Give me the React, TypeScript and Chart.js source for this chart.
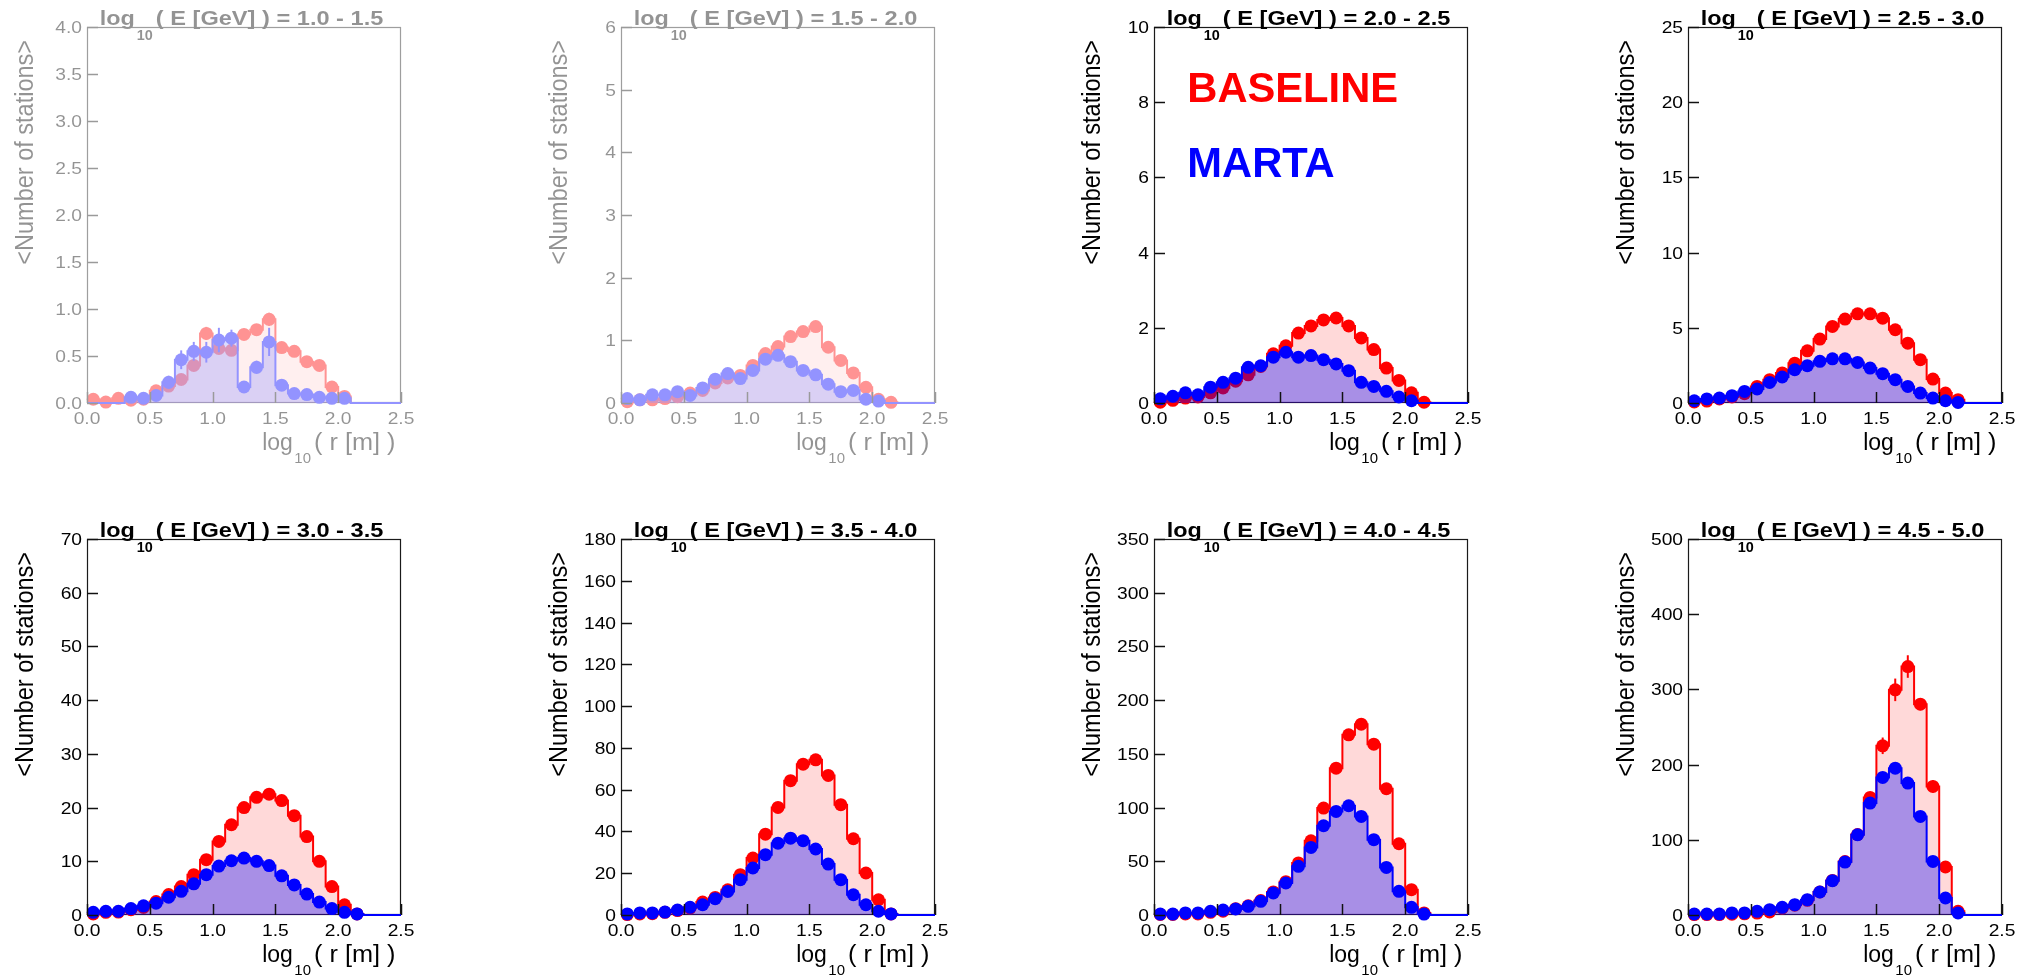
import React, { useEffect, useRef } from "react";
import { Chart, registerables } from "chart.js";
Chart.register(...registerables);

// ---------------- DATA ----------------
const BIN_CENTERS = [0.05, 0.15, 0.25, 0.35, 0.45, 0.55, 0.65, 0.75, 0.85, 0.95, 1.05, 1.15, 1.25, 1.35, 1.45, 1.55, 1.65, 1.75, 1.85, 1.95, 2.05, 2.15];
const BIN_WIDTH = 0.1;
const X_MAX = 2.5;
const X_TICK_LABELS = ["0.0", "0.5", "1.0", "1.5", "2.0", "2.5"];
const ENERGY_BINS = ["1.0 - 1.5", "1.5 - 2.0", "2.0 - 2.5", "2.5 - 3.0", "3.0 - 3.5", "3.5 - 4.0", "4.0 - 4.5", "4.5 - 5.0"];
const Y_TICK_LABELS = [
  ["0.0", "0.5", "1.0", "1.5", "2.0", "2.5", "3.0", "3.5", "4.0"],
  ["0", "1", "2", "3", "4", "5", "6"],
  ["0", "2", "4", "6", "8", "10"],
  ["0", "5", "10", "15", "20", "25"],
  ["0", "10", "20", "30", "40", "50", "60", "70"],
  ["0", "20", "40", "60", "80", "100", "120", "140", "160", "180"],
  ["0", "50", "100", "150", "200", "250", "300", "350"],
  ["0", "100", "200", "300", "400", "500"],
];
const X_TITLE = ["log", "10", "( r [m] )"];
const Y_TITLE = "<Number of stations>";
const LEGEND = ["BASELINE", "MARTA"];

const BASELINE_1 = [0.04, 0.01, 0.05, 0.03, 0.04, 0.13, 0.18, 0.25, 0.40, 0.74, 0.58, 0.56, 0.73, 0.78, 0.89, 0.59, 0.55, 0.44, 0.40, 0.17, 0.07, null];
const MARTA_1 = [null, null, null, 0.06, 0.05, 0.08, 0.22, 0.46, 0.55, 0.54, 0.67, 0.69, 0.17, 0.38, 0.65, 0.19, 0.10, 0.09, 0.06, 0.05, 0.05, null];
const BASELINE_ERR_1 = [0.03, 0.01, 0.03, 0.02, 0.03, 0.05, 0.05, 0.05, 0.06, 0.07, 0.06, 0.06, 0.06, 0.06, 0.07, 0.05, 0.05, 0.05, 0.05, 0.04, 0.03, 0];
const MARTA_ERR_1 = [0, 0, 0, 0.04, 0.04, 0.05, 0.07, 0.1, 0.1, 0.11, 0.13, 0.09, 0.06, 0.07, 0.15, 0.06, 0.04, 0.04, 0.03, 0.03, 0.03, 0];

const BASELINE_2 = [0.02, 0.05, 0.05, 0.07, 0.10, 0.16, 0.20, 0.32, 0.40, 0.44, 0.60, 0.79, 0.90, 1.06, 1.14, 1.22, 0.89, 0.68, 0.48, 0.25, 0.06, 0.01];
const MARTA_2 = [0.07, 0.05, 0.13, 0.13, 0.18, 0.12, 0.24, 0.38, 0.47, 0.39, 0.52, 0.70, 0.76, 0.66, 0.52, 0.45, 0.30, 0.18, 0.20, 0.06, 0.03, null];

const BASELINE_3 = [0.02, 0.07, 0.13, 0.16, 0.27, 0.40, 0.58, 0.75, 0.97, 1.31, 1.52, 1.86, 2.05, 2.21, 2.26, 2.05, 1.73, 1.42, 0.93, 0.60, 0.27, 0.02];
const MARTA_3 = [0.11, 0.18, 0.27, 0.22, 0.42, 0.55, 0.66, 0.95, 0.99, 1.22, 1.35, 1.22, 1.26, 1.15, 1.04, 0.86, 0.55, 0.44, 0.31, 0.16, 0.06, null];

const BASELINE_4 = [0.07, 0.13, 0.27, 0.40, 0.62, 1.10, 1.55, 2.00, 2.65, 3.47, 4.25, 5.09, 5.58, 5.93, 5.93, 5.64, 4.87, 3.98, 2.88, 1.59, 0.66, 0.22];
const MARTA_4 = [0.15, 0.27, 0.33, 0.49, 0.77, 0.93, 1.37, 1.73, 2.21, 2.48, 2.77, 2.94, 2.94, 2.70, 2.32, 1.95, 1.55, 1.10, 0.66, 0.33, 0.15, 0.04];

const BASELINE_5 = [0.2, 0.5, 0.55, 1.0, 1.4, 2.5, 3.8, 5.3, 7.5, 10.3, 13.7, 16.8, 20.0, 21.9, 22.5, 21.3, 18.5, 14.6, 10.0, 5.3, 1.9, 0.2];
const MARTA_5 = [0.5, 0.7, 0.7, 1.2, 1.7, 2.2, 3.3, 4.4, 5.8, 7.5, 9.1, 10.1, 10.6, 10.0, 9.2, 7.3, 5.6, 3.9, 2.4, 1.2, 0.5, 0.2];

const BASELINE_6 = [0.2, 0.5, 0.6, 1.3, 2.1, 3.3, 6.2, 8.4, 12.1, 19.3, 27.3, 38.7, 51.5, 64.3, 72.2, 74.3, 66.8, 52.8, 36.5, 20.1, 7.3, 0.5];
const MARTA_6 = [0.5, 1.0, 1.0, 1.4, 2.4, 3.7, 4.9, 7.8, 11.3, 16.9, 22.5, 28.9, 34.4, 36.8, 35.6, 31.6, 24.4, 16.9, 9.7, 4.9, 1.8, 0.5];

const BASELINE_7 = [0.5, 0.5, 1.0, 1.0, 2.5, 3.5, 5.9, 8.5, 13.5, 21.5, 31.0, 48.5, 69.1, 99.5, 136.7, 167.7, 177.6, 159.0, 117.5, 66.3, 23.6, 1.9];
const MARTA_7 = [0.9, 0.9, 1.9, 1.9, 3.4, 4.6, 5.6, 8.1, 12.7, 20.5, 29.8, 45.3, 62.9, 83.1, 96.4, 101.7, 91.8, 70.1, 44.3, 22.0, 7.1, 0.9];

const BASELINE_8 = [0.5, 0.5, 0.5, 1.0, 1.5, 2.5, 4.0, 9.0, 13.0, 19.5, 30.6, 46.0, 71.0, 107.0, 156.3, 225.0, 299.4, 330.4, 280.3, 171.0, 63.8, 4.9];
const MARTA_8 = [1.3, 1.3, 1.3, 2.7, 2.7, 4.9, 7.1, 10.2, 13.7, 20.4, 30.6, 45.6, 70.4, 106.7, 148.8, 182.9, 195.3, 175.4, 131.1, 71.3, 22.6, 2.7];
const BASELINE_ERR_8 = [0, 0, 0, 0, 0, 0, 0, 0, 0, 0, 0, 0, 3, 4, 6, 11, 15, 15, 8, 8, 6, 2];

const BASELINE_SERIES = [BASELINE_1, BASELINE_2, BASELINE_3, BASELINE_4, BASELINE_5, BASELINE_6, BASELINE_7, BASELINE_8];
const MARTA_SERIES = [MARTA_1, MARTA_2, MARTA_3, MARTA_4, MARTA_5, MARTA_6, MARTA_7, MARTA_8];
const BASELINE_ERRORS = [BASELINE_ERR_1, null, null, null, null, null, null, BASELINE_ERR_8];
const MARTA_ERRORS = [MARTA_ERR_1, null, null, null, null, null, null, null];

// ---------------- LAYOUT / STYLE ----------------
const COL_LEFT = [87, 621, 1154, 1688];
const ROW_TOP = [27, 539];
const PLOT_W = 314;
const PLOT_H = 376;
const PAD = { left: 90, top: 27, right: 20, bottom: 70 };
const FADED = [true, true, false, false, false, false, false, false];
const FONT = '"Liberation Sans", Arial, Helvetica, sans-serif';
const RED = "#ff0000";
const BLUE = "#0000ff";

type Seg = { t: string; font: string; sx: number; dy: number; gap: number };

function drawSegs(ctx: CanvasRenderingContext2D, segs: Seg[], x: number, y: number, align: "left" | "right") {
  ctx.save();
  const widths = segs.map((s) => {
    ctx.font = s.font;
    return ctx.measureText(s.t).width * s.sx;
  });
  const total = widths.reduce((a, w, i) => a + w + segs[i].gap, 0);
  let cx = align === "right" ? x - total : x;
  segs.forEach((s, i) => {
    cx += s.gap;
    ctx.save();
    ctx.font = s.font;
    ctx.textAlign = "left";
    ctx.textBaseline = "alphabetic";
    ctx.translate(cx, y + s.dy);
    ctx.scale(s.sx, 1);
    ctx.fillText(s.t, 0, 0);
    ctx.restore();
    cx += widths[i];
  });
  ctx.restore();
}

function drawText(ctx: CanvasRenderingContext2D, t: string, x: number, y: number, font: string, sx: number, align: "left" | "right" | "center") {
  ctx.save();
  ctx.font = font;
  const w = ctx.measureText(t).width * sx;
  const x0 = align === "right" ? x - w : align === "center" ? x - w / 2 : x;
  ctx.translate(x0, y);
  ctx.scale(sx, 1);
  ctx.textAlign = "left";
  ctx.textBaseline = "alphabetic";
  ctx.fillText(t, 0, 0);
  ctx.restore();
}

function histSteps(values: (number | null)[]) {
  const pts: { x: number; y: number }[] = [];
  values.forEach((v, i) => {
    const y = v ?? 0;
    pts.push({ x: BIN_CENTERS[i] - BIN_WIDTH / 2, y });
    pts.push({ x: BIN_CENTERS[i] + BIN_WIDTH / 2, y });
  });
  const end = BIN_CENTERS[BIN_CENTERS.length - 1] + BIN_WIDTH / 2;
  pts.push({ x: end, y: 0 });
  pts.push({ x: X_MAX, y: 0 });
  return pts;
}

function markerPoints(values: (number | null)[]) {
  return values.map((v, i) => ({ x: BIN_CENTERS[i], y: v }));
}

function drawErrors(chart: any, values: (number | null)[], errs: number[] | null, color: string) {
  if (!errs) return;
  const { ctx } = chart;
  const x = chart.scales.x;
  const y = chart.scales.y;
  ctx.save();
  ctx.strokeStyle = color;
  ctx.lineWidth = 2;
  values.forEach((v, i) => {
    const e = errs[i];
    if (v == null || !e) return;
    const px = x.getPixelForValue(BIN_CENTERS[i]);
    ctx.beginPath();
    ctx.moveTo(px, y.getPixelForValue(v - e));
    ctx.lineTo(px, y.getPixelForValue(v + e));
    ctx.stroke();
  });
  ctx.restore();
}

function makeDecor(idx: number) {
  const yLabels = Y_TICK_LABELS[idx];
  return {
    id: "rootDecor" + idx,
    beforeDatasetsDraw(chart: any) {
      const { ctx, chartArea: a } = chart;
      ctx.save();
      ctx.strokeStyle = "#1a1a1a";
      ctx.lineWidth = 1.2;
      ctx.strokeRect(a.left + 0.5, a.top + 0.5, a.right - a.left - 1, a.bottom - a.top - 1);
      ctx.restore();
    },
    afterDatasetDraw(chart: any, args: any) {
      if (args.index === 1) drawErrors(chart, BASELINE_SERIES[idx], BASELINE_ERRORS[idx], RED);
      if (args.index === 3) drawErrors(chart, MARTA_SERIES[idx], MARTA_ERRORS[idx], BLUE);
    },
    afterDatasetsDraw(chart: any) {
      const { ctx, chartArea: a } = chart;
      const x = chart.scales.x;
      const y = chart.scales.y;
      ctx.save();
      ctx.strokeStyle = "#111";
      ctx.lineWidth = 1.5;
      yLabels.forEach((l) => {
        const py = Math.round(y.getPixelForValue(parseFloat(l))) + 0.5;
        ctx.beginPath();
        ctx.moveTo(a.left, py);
        ctx.lineTo(a.left + 11, py);
        ctx.stroke();
      });
      X_TICK_LABELS.forEach((l) => {
        const px = Math.round(x.getPixelForValue(parseFloat(l))) + 0.5;
        ctx.beginPath();
        ctx.moveTo(px, a.bottom);
        ctx.lineTo(px, a.bottom - 11);
        ctx.stroke();
      });
      ctx.restore();
    },
    afterDraw(chart: any) {
      const { ctx, chartArea: a } = chart;
      const x = chart.scales.x;
      const y = chart.scales.y;
      ctx.save();
      ctx.fillStyle = "#000";
      const tickFont = `16px ${FONT}`;
      yLabels.forEach((l) => {
        const py = y.getPixelForValue(parseFloat(l));
        drawText(ctx, l, a.left - 5, py + 6, tickFont, 1.2, "right");
      });
      X_TICK_LABELS.forEach((l) => {
        const px = x.getPixelForValue(parseFloat(l));
        drawText(ctx, l, px, a.bottom + 21, tickFont, 1.2, "center");
      });
      // x axis title
      drawSegs(
        ctx,
        [
          { t: X_TITLE[0], font: `23px ${FONT}`, sx: 1.0, dy: 0, gap: 0 },
          { t: X_TITLE[1], font: `14px ${FONT}`, sx: 1.07, dy: 13, gap: 1.5 },
          { t: X_TITLE[2], font: `23px ${FONT}`, sx: 1.1, dy: 0, gap: 3 },
        ],
        a.right - 5.5,
        a.bottom + 46.5,
        "right"
      );
      // y axis title
      ctx.save();
      ctx.translate(a.left - 54, a.top + 13);
      ctx.rotate(-Math.PI / 2);
      ctx.scale(1, 1.12);
      ctx.font = `23.5px ${FONT}`;
      ctx.textAlign = "right";
      ctx.textBaseline = "alphabetic";
      ctx.fillText(Y_TITLE, 0, 0);
      ctx.restore();
      // panel title
      drawSegs(
        ctx,
        [
          { t: "log", font: `bold 19.5px ${FONT}`, sx: 1.2, dy: 0, gap: 0 },
          { t: "10", font: `bold 14px ${FONT}`, sx: 1.03, dy: 15, gap: 2 },
          { t: "( E [GeV] ) = " + ENERGY_BINS[idx], font: `bold 19.5px ${FONT}`, sx: 1.21, dy: 0, gap: 3 },
        ],
        a.left + 12.7,
        a.top - 1.7,
        "left"
      );
      if (idx === 2) {
        ctx.fillStyle = RED;
        drawText(ctx, LEGEND[0], a.left + 33.3, a.top + 75, `bold 41.7px ${FONT}`, 1.0, "left");
        ctx.fillStyle = BLUE;
        drawText(ctx, LEGEND[1], a.left + 33.3, a.top + 150, `bold 41.7px ${FONT}`, 1.0, "left");
      }
      ctx.restore();
    },
  };
}

function Panel({ idx }: { idx: number }) {
  const ref = useRef<HTMLCanvasElement | null>(null);
  useEffect(() => {
    if (!ref.current) return;
    const yLabels = Y_TICK_LABELS[idx];
    const yMax = parseFloat(yLabels[yLabels.length - 1]);
    const base = BASELINE_SERIES[idx];
    const marta = MARTA_SERIES[idx];
    const chart = new Chart(ref.current, {
      type: "line",
      data: {
        datasets: [
          {
            label: "BASELINE",
            data: histSteps(base),
            borderColor: RED,
            borderWidth: 2,
            backgroundColor: "rgba(255,0,0,0.15)",
            fill: "origin",
            pointRadius: 0,
            tension: 0,
            order: 4,
            clip: false,
          } as any,
          {
            label: "BASELINE points",
            data: markerPoints(base),
            showLine: false,
            pointRadius: 6.5,
            pointBorderWidth: 0,
            pointBackgroundColor: RED,
            borderColor: RED,
            backgroundColor: RED,
            order: 3,
            clip: false,
          } as any,
          {
            label: "MARTA",
            data: histSteps(marta),
            borderColor: BLUE,
            borderWidth: 2,
            backgroundColor: "rgba(0,0,255,0.34)",
            fill: "origin",
            pointRadius: 0,
            tension: 0,
            order: 2,
            clip: false,
          } as any,
          {
            label: "MARTA points",
            data: markerPoints(marta),
            showLine: false,
            pointRadius: 6.5,
            pointBorderWidth: 0,
            pointBackgroundColor: BLUE,
            borderColor: BLUE,
            backgroundColor: BLUE,
            order: 1,
            clip: false,
          } as any,
        ],
      },
      options: {
        animation: false,
        responsive: false,
        events: [],
        layout: { padding: PAD },
        scales: {
          x: { type: "linear", min: 0, max: X_MAX, display: false },
          y: { type: "linear", min: 0, max: yMax, display: false },
        },
        plugins: {
          legend: { display: false },
          tooltip: { enabled: false },
          title: { display: false },
        },
      },
      plugins: [makeDecor(idx)],
    });
    return () => chart.destroy();
  }, [idx]);

  const col = idx % 4;
  const row = Math.floor(idx / 4);
  const w = PAD.left + PLOT_W + PAD.right;
  const h = PAD.top + PLOT_H + PAD.bottom;
  return (
    <canvas
      ref={ref}
      width={w}
      height={h}
      style={{
        position: "absolute",
        left: COL_LEFT[col] - PAD.left,
        top: ROW_TOP[row] - PAD.top,
        width: w,
        height: h,
        opacity: FADED[idx] ? 0.42 : 1,
      }}
    />
  );
}

export default function App() {
  return (
    <div
      style={{
        position: "absolute",
        left: 0,
        top: 0,
        width: 2027,
        height: 976,
        overflow: "hidden",
        background: "#fff",
      }}
    >
      {ENERGY_BINS.map((_, i) => (
        <Panel key={i} idx={i} />
      ))}
    </div>
  );
}
